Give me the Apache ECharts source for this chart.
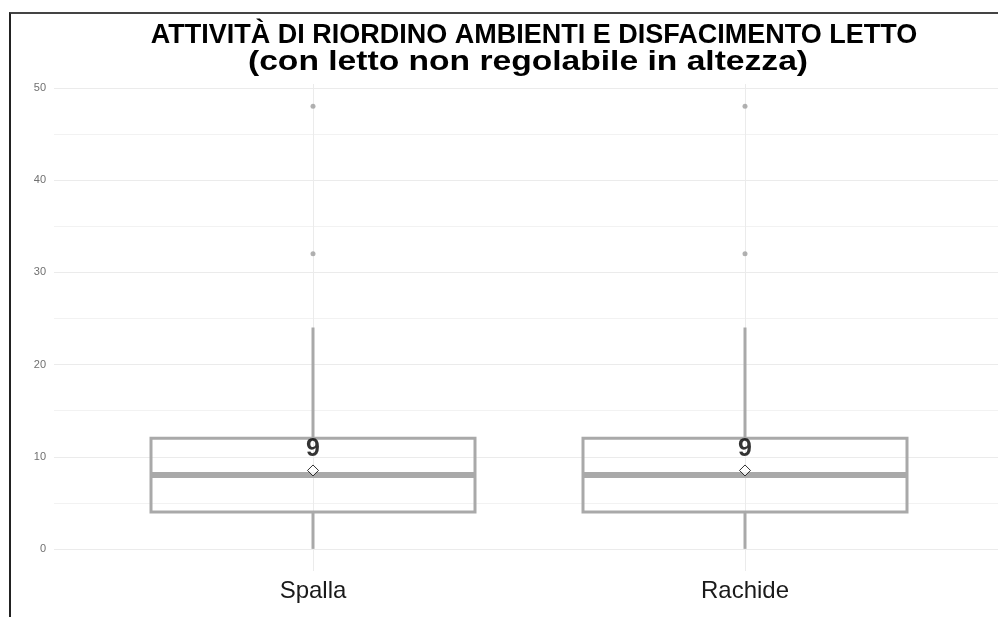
<!DOCTYPE html>
<html>
<head>
<meta charset="utf-8">
<script src="https://cdn.jsdelivr.net/npm/echarts@6/dist/echarts.min.js"></script>
<style>
  html, body { margin: 0; padding: 0; background: #fff; }
  #chart { width: 998px; height: 617px; position: relative; }
  #frame { position: absolute; left: 9px; top: 12px; width: 1000px; height: 700px;
           border-left: 2px solid #222; border-top: 2px solid #444; pointer-events: none; }
</style>
</head>
<body>
<div id="chart"></div>
<div id="frame"></div>
<script>
const titleLine1 = 'ATTIVITÀ DI RIORDINO AMBIENTI E DISFACIMENTO LETTO';
const titleLine2 = '(con letto non regolabile in altezza)';
const categories = ['Spalla', 'Rachide'];
const whiskerLow = [0, 0];
const q1 = [4, 4];
const median = [8, 8];
const q3 = [12, 12];
const whiskerHigh = [24, 24];
const outlierValues = [[32, 48], [32, 48]];
const means = [8.5, 8.5];
const meanLabels = ['9', '9'];
const yMin = 0, yMax = 50, yStep = 10;

const boxColor = '#a9a9a9';
const gridColor = '#ebebeb';

const boxData = categories.map((c, i) => [i, whiskerLow[i], q1[i], median[i], q3[i], whiskerHigh[i]]);
const outlierData = [];
outlierValues.forEach((vals, i) => vals.forEach(v => outlierData.push([i, v])));
const meanData = categories.map((c, i) => ({ value: [i, means[i]], label: { formatter: meanLabels[i] } }));

const chart = echarts.init(document.getElementById('chart'), null, { renderer: 'canvas' });
chart.setOption({
  backgroundColor: '#fff',
  animation: false,
  title: [
    { text: titleLine1, left: 529, top: 17, textAlign: 'center',
      textStyle: { fontFamily: 'Liberation Sans', fontWeight: 'bold', fontSize: 27, color: '#000' } }
  ],
  graphic: [
    { type: 'text', x: 528, y: 62, scaleX: 1.2, scaleY: 1,
      style: { text: titleLine2, fontFamily: 'Liberation Sans', fontWeight: 'bold', fontSize: 28,
               fill: '#000', textAlign: 'center', textVerticalAlign: 'middle' } }
  ],
  grid: [
    { left: 54, right: 0, top: 88, bottom: 68 },
    { left: 97, right: 37, top: 84, bottom: 46 }
  ],
  xAxis: [
    { type: 'value', gridIndex: 0, min: 0, max: 1, show: false },
    { type: 'category', gridIndex: 1, data: categories,
      axisLine: { show: false }, axisTick: { show: false },
      axisLabel: { fontFamily: 'Liberation Sans', fontSize: 24, color: '#1a1a1a', margin: 8 },
      splitLine: { show: true, alignWithLabel: true, lineStyle: { color: gridColor, width: 1 } } }
  ],
  yAxis: [
    { type: 'value', gridIndex: 0, min: yMin, max: yMax, interval: yStep,
      axisLine: { show: false }, axisTick: { show: false },
      axisLabel: { fontFamily: 'Liberation Sans', fontSize: 11, color: '#707070', margin: 8 },
      splitLine: { lineStyle: { color: gridColor, width: 1 } },
      minorTick: { show: false, splitNumber: 2 },
      minorSplitLine: { show: true, lineStyle: { color: '#f2f2f2', width: 1 } } },
    { type: 'value', gridIndex: 1, min: yMin - 2.4, max: yMax + 0.4, show: false }
  ],
  series: [
    {
      type: 'custom', xAxisIndex: 1, yAxisIndex: 1, data: boxData,
      encode: { x: 0, y: [1, 2, 3, 4, 5] },
      renderItem: function (params, api) {
        const idx = api.value(0);
        const cLow = api.coord([idx, api.value(1)]);
        const cQ1 = api.coord([idx, api.value(2)]);
        const cMed = api.coord([idx, api.value(3)]);
        const cQ3 = api.coord([idx, api.value(4)]);
        const cHigh = api.coord([idx, api.value(5)]);
        const band = api.size([1, 0])[0];
        const half = band * 0.75 / 2;
        const x = cMed[0];
        const st = { stroke: boxColor, lineWidth: 3, fill: null };
        return { type: 'group', children: [
          { type: 'line', shape: { x1: x, y1: cQ3[1], x2: x, y2: cHigh[1] }, style: st },
          { type: 'line', shape: { x1: x, y1: cQ1[1], x2: x, y2: cLow[1] }, style: st },
          { type: 'rect', shape: { x: x - half, y: cQ3[1], width: 2 * half, height: cQ1[1] - cQ3[1] }, style: st },
          { type: 'line', shape: { x1: x - half, y1: cMed[1], x2: x + half, y2: cMed[1] },
            style: { stroke: boxColor, lineWidth: 6 } }
        ] };
      }
    },
    {
      type: 'scatter', xAxisIndex: 1, yAxisIndex: 1, data: outlierData,
      symbol: 'circle', symbolSize: 5, itemStyle: { color: '#9e9e9e' }
    },
    {
      type: 'scatter', xAxisIndex: 1, yAxisIndex: 1, data: meanData,
      symbol: 'diamond', symbolSize: 11,
      itemStyle: { color: '#fff', borderColor: '#000', borderWidth: 1 },
      label: { show: true, position: 'top', distance: 3, fontFamily: 'Liberation Sans',
               fontWeight: 'bold', fontSize: 25, color: '#000' },
      z: 5
    }
  ]
});
</script>
</body>
</html>
